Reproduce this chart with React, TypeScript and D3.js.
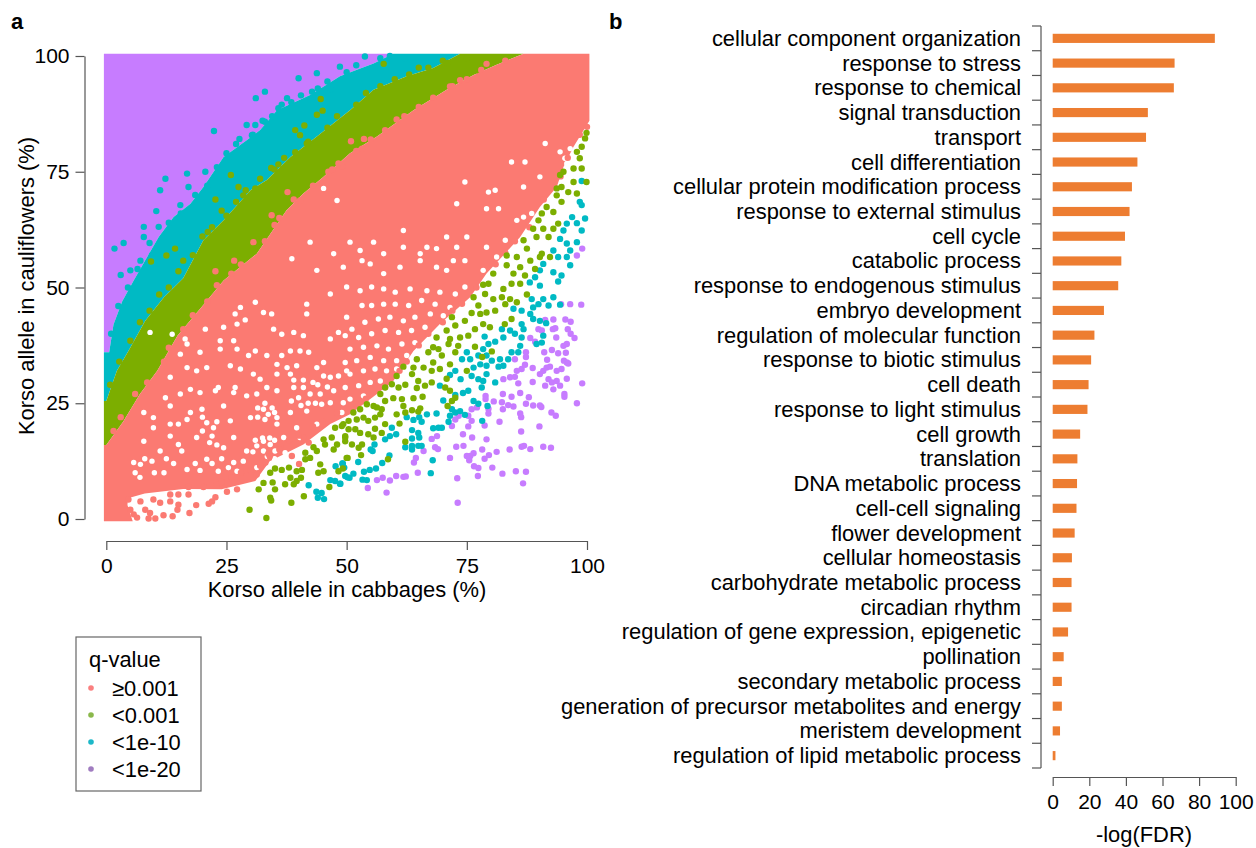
import React, { useEffect, useRef } from "react";
import * as d3 from "d3";

type Pt = [number, number];

const FONT = "'Liberation Sans', Arial, sans-serif";
const SALMON = "#FB7A72";
const GREEN = "#7CAE00";
const TEAL = "#00BAC4";
const PURPLE = "#C77CFF";

// panel b
const terms = [
  "cellular component organization", "response to stress", "response to chemical", "signal transduction",
  "transport", "cell differentiation", "cellular protein modification process", "response to external stimulus",
  "cell cycle", "catabolic process", "response to endogenous stimulus", "embryo development",
  "regulation of molecular function", "response to biotic stimulus", "cell death", "response to light stimulus",
  "cell growth", "translation", "DNA metabolic process", "cell-cell signaling",
  "flower development", "cellular homeostasis", "carbohydrate metabolic process", "circadian rhythm",
  "regulation of gene expression, epigenetic", "pollination", "secondary metabolic process",
  "generation of precursor metabolites and energy", "meristem development", "regulation of lipid metabolic process",
];
const fdr = [
  88.6, 66.6, 66.2, 52, 51, 46.3, 43.3, 42, 39.5, 37.5, 35.8, 28, 22.8, 21, 19.6, 19, 15, 13.5, 13.3, 13,
  12, 10.5, 10.3, 10.3, 8.4, 6, 5, 5, 4, 1.5,
];

// panel a, outlines of the solid parts of the cloud
const purpleTop: Pt[] = [[-0.5, 100.5], [59.7, 100.5]];
const tealTop: Pt[] = [
  [-0.5, 36], [0.6, 36], [1.5, 42], [3.3, 47], [5.7, 51.5], [8.5, 56.6], [10.9, 60.9], [14, 65.2], [17.5, 68.1],
  [20.2, 71.7], [24.4, 78.2], [29.2, 81.8], [32, 84], [35.5, 88.3], [42.4, 91.6], [48.6, 95.6], [52, 97],
  [55.6, 98.4], [59.7, 100.5],
];
const greenTop: Pt[] = [
  [-0.5, 25.5], [0, 25.5], [2.2, 32], [4.6, 36.3], [8.1, 42.8], [12, 47.9], [16, 52], [20.2, 60.2], [24.4, 64.5],
  [30, 71], [33.4, 73.2], [38.3, 78.2], [43.8, 82.6], [50.7, 88.3], [55.6, 92.7], [62.5, 95.6], [68, 97.4],
  [73.6, 100.5],
];
const salmonTop: Pt[] = [
  [-0.5, 16], [0, 16], [3.5, 21], [7, 27], [10.6, 32], [14.8, 39.6], [20, 46], [24.4, 51.5], [31.3, 57.3],
  [37.5, 66.7], [41, 70.3], [45.2, 73.9], [50.7, 79], [56.3, 82.6], [63.9, 88.3], [70.8, 92.7], [76.4, 95.9],
  [81.2, 98.1], [86.8, 100.5], [100.5, 100.5],
];
const salmonEdge: Pt[] = [
  [-0.5, -0.5], [5.5, -0.5], [4.4, 3], [4.5, 4.5], [8, 5.5], [16, 6.5], [24, 6.4], [31, 8.2], [34, 12.5], [41, 16.1], [46.6, 20.5],
  [50.7, 22.6], [56.3, 27], [59.7, 29.8], [63.9, 36.3], [69.4, 42.1], [75.7, 47.9], [79.1, 53], [86.1, 60.9],
  [90.2, 67.4], [93.7, 71.7], [95.1, 76], [97.2, 80.4], [100.5, 86], [100.5, 100.5],
];

// single points
const tealFringe: Pt[] = [
  [10.4, 66.5], [7.8, 63.1], [9, 59.6], [7.8, 60.9], [3.6, 59.6], [1.7, 58.4], [7.1, 55.8], [3, 52.7], [5, 53.7],
  [10.9, 63.1], [15.4, 67.8], [17.1, 71.7], [20.6, 75], [22.4, 83.8], [27.7, 82.1], [25.8, 78.2], [30.3, 82.9],
  [29.2, 85.1], [31, 85.1], [33, 85.8], [31.1, 90.9], [33, 92.3], [35.8, 88.7], [37.6, 90.9], [40, 95.2], [43.8, 96.3],
  [42.8, 92.3], [46.6, 92.7], [48.6, 97.7], [16.8, 74.6], [12.3, 73.5], [11.2, 71], [53.8, 99.9], [62, 99.5],
  [1, 40], [2.5, 46], [4.5, 50], [6.5, 54], [9.5, 57], [12, 61], [13, 64], [15.5, 66], [18.5, 70], [21, 72], [23, 76],
  [25, 79], [27, 81], [30.5, 83], [32.5, 86], [34.5, 87], [36.5, 89.5], [38.5, 90], [40.5, 91.5], [44, 93], [46, 94.5],
  [50, 96.5], [52, 98], [57, 99.5], [59, 100],
];
const greenFringe: Pt[] = [
  [9.3, 55.6], [12.5, 56.9], [14.3, 58.4], [16, 55.8], [21.1, 62], [22.7, 69], [24, 66.6], [25.9, 74.3], [28.5, 69.9],
  [27.5, 71.7], [31, 71.4], [34.3, 75.8], [35.8, 76.6], [39.3, 79.2], [41.7, 81.1], [40.3, 82.9], [39.3, 84], [41.2, 85],
  [43.8, 87.3], [45, 88.2], [44.6, 90.7], [57.7, 98.3], [49.2, 76.1], [77.7, 96.3], [65, 97.5], [70, 99], [75, 99.5],
  [0.8, 29], [2.7, 34], [5, 38.5], [7, 42.5], [9, 45], [11, 48.5], [13, 50], [15, 53.5], [18, 57], [20, 61], [22, 63],
  [25, 65.5], [27, 68.5], [29, 71], [32, 73.5], [35, 75.5], [37, 78], [42, 81.5], [46, 84.5], [48, 87], [52, 89.5],
  [54, 92], [57, 93.5], [60, 95], [63, 96], [67, 97.5], [71, 98.5],
];
const salmonFringe: Pt[] = [
  [34.4, 65.6], [37.7, 70.6], [30.6, 59.8], [26.6, 55.8], [22.7, 53.5], [40.3, 68.8], [49.1, 76.1], [46.2, 75],
  [48.3, 76.8], [50.9, 81.6], [53.6, 82.1], [53.2, 80], [60.4, 86.3], [73.6, 94.8], [79.1, 98.3], [71.5, 93.4],
  [100, 84.7], [1.5, 19], [3, 22], [6, 27], [8.5, 29.5], [12, 34], [13, 37], [16, 41], [18, 44], [21, 47], [23, 50.5],
  [26, 53], [28, 55], [33, 60], [35, 63.5], [36, 65], [39, 69], [43, 72], [47, 75.5], [52, 79.5], [55, 82], [58, 84],
  [62, 87], [65, 89], [68, 91], [72, 93.5], [75, 95], [78, 97], [83, 99],
];
const salmonPoints: Pt[] = [
  [4.6, 4.2], [7.1, 3.8], [5.7, 1], [5, 2], [6.4, 0.3], [8.8, 0.1], [10.2, 0.1], [9.1, 1.3], [11.9, 0.8], [13.8, 0.6],
  [8.1, 2], [9.8, 4.2], [11.2, 3.5], [13.3, 3.8], [13.3, 5.3], [15, 3.1], [14.8, 2], [17.3, 1.3], [18.7, 3], [21.3, 3.3],
  [22.7, 4.7], [22, 3.8], [17.1, 5.3], [15, 5.3], [17.1, 6.9], [20.2, 6.9], [25.1, 5.9], [27.2, 6.4], [23, 7.5],
  [31.3, 9.6], [33.7, 14.1], [38.6, 13.6], [40.1, 11.9], [42.1, 16.5], [36.2, 15.4], [41, 17.6], [33.1, 12.2],
  [24, 8], [26, 9], [28, 10], [30, 10.5], [32, 11.5], [34, 13.5], [36, 15], [38, 17], [40, 18], [43, 20], [45, 21], [48, 23],
  [52, 24.8], [54, 26], [58, 28.5], [61, 32], [62.5, 34], [65, 37.5], [67, 40], [70, 42.5], [72, 45], [74, 46.5], [77, 50],
  [81, 55], [83, 57.5], [85, 60], [88, 63], [91, 69], [94.5, 74], [96, 78], [98.5, 83],
];
// empty cells inside the solid salmon part
const salmonGaps: Pt[] = [
  [27.9, 45.7], [26.8, 44.3], [32.7, 44.6], [34.4, 44.3], [41.7, 46.4], [41.7, 44.3], [31, 46.8], [46.6, 48.6],
  [28.9, 43], [27.2, 42.1], [24.4, 41.4], [34.8, 41], [36.5, 39.9], [39, 40.3], [41, 39.6], [48.3, 40.3], [46.6, 38.9],
  [26.5, 38.5], [23.7, 38.5], [20.6, 41], [9.1, 40.3], [13.7, 39.9], [16.4, 38.9], [16.8, 37.8], [31, 36.3], [29.6, 35.3],
  [27.2, 36.7], [23.7, 36.7], [38.3, 36.3], [40.3, 36.3], [42.1, 36], [45.2, 33.8], [43.8, 32.7], [36.5, 35.3], [19.5, 36],
  [15.4, 35.6], [35.5, 33.4], [33.4, 35.3], [25.8, 33.1], [27.9, 32.4], [30.6, 31.3], [32, 30.2], [35.5, 31.3], [37.6, 32.7],
  [39.6, 33.1], [38.3, 31.3], [18.8, 32], [16.8, 32.7], [13.3, 30.6], [20.9, 32.7], [46.6, 30.6], [48.3, 30.9], [45.2, 30.9],
  [50, 32], [23.3, 28.4], [22.7, 27.7], [26.8, 28.4], [26.5, 27.3], [17.5, 28], [19.5, 27.3], [15.4, 27], [12.3, 26.2],
  [39, 28.4], [41, 28.4], [42.4, 27], [40, 26.2], [44.5, 27], [47.3, 27.7], [29.2, 26.6], [33.4, 28.4], [35.5, 27.7], [31.3, 27],
  [13.3, 24.4], [24.4, 24.4], [32.7, 23.7], [33.7, 22.6], [35.5, 21.9], [30, 21.9], [17.5, 23], [19.9, 23.7], [38.3, 23],
  [41.7, 23.3], [46.6, 25.1], [44.8, 24.8], [9.8, 21.9], [7.8, 23], [13.3, 20.5], [25.8, 21.2], [16.8, 21.5], [49.3, 25.1],
  [15, 20.5], [22.3, 19.7], [22, 17.9], [20.9, 20.8], [13.3, 17.9], [15, 16.1], [7.8, 16.8], [9.8, 19.7], [32.7, 16.8],
  [34.1, 16.1], [36.9, 17.6], [39.6, 19.7], [43.8, 20.5], [40.3, 17.6], [31.3, 15.8], [26.5, 17.6], [18.8, 17.6], [44.5, 17.9],
  [32.7, 14.7], [35.1, 14.7], [37.2, 14.3], [40, 14.7], [29.2, 14.7], [24.4, 15.4], [15.7, 14.7], [5.7, 12.2], [7.1, 11.8],
  [16.8, 10.7], [26.5, 12.2], [25.4, 11.1], [27.2, 10.3], [20.9, 12.9], [11.2, 14.7], [28.5, 12.5], [31.3, 11.1], [23.3, 10.3],
  [40, 12.2],
  [31.5, 24], [33, 25], [34.5, 24], [35, 23], [31.5, 22], [33, 21.5], [35.5, 20.5], [31, 17], [32.5, 17.5], [34, 17.5], [35, 17],
  [30.5, 14.5], [33.5, 13.5], [35, 13], [39, 30], [41, 30], [43, 29.5], [42, 25], [43.5, 25], [38.5, 25.5], [40.5, 24.5], [44, 29],
  [46, 28.5], [20, 19], [21.5, 16.5], [23, 16], [23, 21], [20, 22], [8, 13], [9.5, 12.5], [12.5, 13], [14, 12], [18.5, 12],
  [19.5, 10.5], [22, 12], [24, 13], [12, 10], [10, 10], [6, 10], [7, 9],
  [50, 50.1], [52.8, 49.3], [55.2, 50.1], [57.7, 49.7], [60.1, 49], [63.2, 49.7],
  [66.7, 49.3], [69.4, 49], [72.6, 48.6], [74.6, 50.1], [50, 43.6], [53.2, 46.1], [55.2, 46.1], [57.7, 46.4], [60.1, 46.4],
  [62.9, 46.1], [65.6, 47.2], [68.4, 46.4], [71.5, 45.7], [51.1, 41], [53.8, 42.5], [56.6, 43.2], [59, 43.6], [61.8, 42.8],
  [64.2, 43.6], [67.4, 44.3], [70.1, 43.9], [49.7, 39.6], [52.5, 39.2], [55.2, 40], [58, 40.7], [60.8, 40.3], [63.5, 40.7],
  [66.3, 41.4], [50.7, 36.7], [53.5, 37.1], [56.3, 37.4], [58.7, 36.7], [61.5, 37.8], [64.2, 38.1], [49.7, 33.8], [52.1, 34.2],
  [54.9, 34.9], [57.7, 34.2], [60.4, 34.2], [62.5, 35.3], [50.7, 31.3], [53.5, 32], [55.9, 32.4], [58.3, 32], [60.4, 32.4],
  [49.7, 28.4], [52.5, 28.8], [54.9, 29.5], [57, 29.8], [50.7, 25.9], [53.5, 26.6], [49, 23],
  [50.7, 59.8], [52.8, 58], [53.2, 55.8], [55.6, 59.8], [57.7, 57.3], [54.9, 55.1], [57.7, 53], [61.1, 54.4], [61.8, 58.7],
  [65.3, 57.3], [66.7, 58.7], [68.7, 58.4], [70.8, 53.7], [72.2, 55.8], [74.6, 55.8], [75, 60.9], [72.9, 58.7], [68.7, 54.4],
  [83, 60.2], [81.2, 56.6], [78.4, 53.7], [79.1, 58.7], [65.3, 55.8], [70.8, 60.9], [61.8, 62.3], [86.8, 65.2], [85.4, 64.5],
  [88.5, 66], [86.8, 71.7], [79.5, 70.6], [80.9, 71], [72.9, 68.1], [90.2, 73.9], [87.1, 77.1], [74.6, 72.8], [81.6, 67],
  [79.1, 67], [94.4, 79.3], [95.4, 77.9], [96.5, 80], [95.8, 76.8], [91.3, 81.1], [84.3, 77.1], [38.6, 56.2], [45.2, 71.4],
  [48, 68.8], [43.8, 53.7], [49.3, 54.4], [47.3, 57.3], [42.4, 59.8],
];

const greenPoints: Pt[] = [
  [49.2, 10.9], [50.2, 13.2], [53, 13.8], [58.6, 12.9], [62.2, 16.7], [49.7, 17.9], [50.4, 19.4], [51.8, 19.4], [49.7, 16.8],
  [51.1, 16.1], [52.5, 15.4], [53.2, 16.1], [52.8, 18.6], [54.5, 18.3], [55.6, 17.6], [57.3, 18.6], [55.9, 19.5], [58, 20.5],
  [61, 20.6], [60.4, 22.6], [62.2, 23], [63.6, 23.5], [65.3, 23.9], [64.9, 23.2], [61.8, 24.4], [61.5, 25.9], [59.7, 26.1],
  [58, 25.5], [57.3, 23.7], [56.3, 24.1], [55.6, 24.4], [54.2, 24.8], [52.8, 23.7], [51.4, 23], [52.1, 21.5], [54.5, 21.2],
  [55.9, 21.9], [57, 22.6], [53.5, 21.9], [49.3, 20.5], [57, 27], [58, 28.4], [59.4, 29.1], [60.8, 28.4], [62.2, 29],
  [60.4, 30.9], [61.8, 32.9], [63.9, 32.7], [63.6, 31.3], [64.9, 29.8], [64.6, 28.3], [66.3, 28.8], [67.7, 29.5], [65.8, 26.4],
  [63.9, 26.1], [66, 32.7], [64.6, 34.5], [67, 36], [68, 37.1], [69.1, 36.7], [68.7, 39.2], [70.8, 40.7], [71.9, 43.6],
  [72.6, 41.8], [74.6, 42.8], [76, 44.5], [71.5, 38.9], [71.2, 37.8], [72.6, 36], [73.2, 37.4], [69.8, 35.3], [68, 33.8],
  [67.7, 32], [69.4, 32.4], [71.5, 33.4], [70.8, 30.3], [75, 32], [70.5, 28.4], [71.5, 27.7], [72.6, 26.2], [71.9, 25.5],
  [71, 24.4], [76.7, 37.2], [78.2, 35], [80.2, 36.2], [73.6, 39.2], [75.3, 39.6], [76.7, 41], [78.4, 42.1], [79.8, 41.4],
  [82.9, 42.1], [84.3, 43.2], [79.1, 44.6], [77.8, 44.3], [80.9, 45], [77.4, 46.1], [76.4, 47.9], [78.8, 48.6], [80.5, 47.5],
  [83, 46.4], [84, 47.5], [85.4, 46.8], [87.5, 48.5], [82.6, 49.7], [84.3, 50.8], [86.1, 50.8], [82.3, 47.9], [79.5, 50.8],
  [78.4, 50.6], [99.9, 83.4], [99.6, 82.2], [98.9, 80.4], [97.9, 79.3], [98.5, 77.9], [97.2, 75.7], [98.9, 75.7], [95.1, 75],
  [94.4, 74.3], [97.2, 72.8], [99.9, 72.8], [93.7, 71.4], [94.7, 71.7], [96.1, 70.6], [97.9, 70.3], [93.7, 69.9], [91.6, 67.4],
  [94.7, 68.5], [90.6, 66], [93, 66.3], [94, 63.8], [89.9, 64.5], [88.8, 62.7], [90.9, 62.7], [93, 62.7], [86.8, 60.2],
  [89.5, 60.9], [92, 60.9], [87.5, 58.4], [90.6, 57.3], [92.3, 56.6], [83.3, 56.9], [85.4, 56.6], [88.2, 55.8], [90.2, 56.6],
  [83.3, 54.8], [86.1, 54.4], [80.5, 53], [84.7, 53], [87.1, 52.6], [89.2, 54], [33.3, 0.2], [29.8, 2], [38.5, 3.5],
  [41.1, 4.9], [34.1, 4.6], [34.3, 4], [31.7, 6.4], [32.7, 7.8], [34.6, 7.9], [35.1, 6.4], [37.2, 7.5], [38.3, 8.9],
  [39.6, 8.2], [40.5, 8.9], [39, 7.5], [38, 11.1], [39.6, 10.3], [40.7, 10.6], [36.5, 10.6], [35.1, 10.9], [34.1, 10],
  [41.4, 12.9], [41.4, 14.3], [42.4, 13.2], [43.1, 15.5], [43.8, 14.7], [45.2, 17.2], [45.5, 16.1], [44.5, 11.8], [44.1, 10],
  [45.2, 10.3], [46.4, 6.9], [48.3, 10.3], [48, 16.1], [47.3, 15], [46.9, 17.6], [47.6, 19.7], [49.7, 17.6], [49, 20.1],
  [50, 13.2], [50.4, 21.2],
];

const tealPoints: Pt[] = [
  [48.7, 7.6], [50.6, 8.9], [51.4, 9.8], [49.7, 9.3], [53.6, 10.2], [53.3, 8.5], [54.2, 8.4], [54.8, 10.6], [56.1, 10.9],
  [57.4, 12.1], [58.9, 13.7], [52.4, 12.3], [49.2, 12], [55.4, 14.7], [55.8, 16.1], [55, 15], [58, 17.2], [59, 17.9],
  [60.3, 18.3], [59.4, 19.7], [62.2, 15.5], [63.6, 15.8], [63.6, 15], [64.9, 15.8], [65.6, 15.8], [63.6, 17.4], [65.1, 17.6],
  [64.9, 18.6], [63.6, 19.2], [67.9, 12.7], [67.5, 9.9], [62.5, 22], [63.9, 21.4], [65.1, 22], [65.6, 21], [66.7, 22.6],
  [68.7, 22.8], [68, 19.6], [69.1, 19.7], [69.8, 19.7], [71.2, 21], [71.5, 22.3], [71.9, 23.7], [72.6, 23], [73.6, 23.3],
  [74.6, 22.5], [78.2, 21.2], [76.4, 25.5], [77.4, 24.9], [79.3, 24.4], [70.1, 25.6], [72.6, 26.8], [74.2, 27.2], [75.3, 27.7],
  [69.4, 28.8], [73.7, 30.2], [72.6, 32], [71.5, 31.1], [75, 36], [74, 34.5], [75.7, 34.5], [77.4, 35.3], [78.4, 36.7],
  [79.1, 35.3], [80.2, 34.2], [81.9, 34.5], [81.6, 32.9], [82.6, 33.1], [76.4, 32.7], [77.8, 33.4], [79.1, 33.1], [76, 30.9],
  [77.4, 30.2], [78.4, 29.8], [79.1, 31.3], [80.9, 29.5], [78.1, 28.4], [79.5, 37.8], [80.9, 38.3], [78.7, 39.4], [83.6, 34.5],
  [84.3, 36], [85.7, 36], [86.1, 37.4], [84, 40.7], [85, 40], [86.4, 39.2], [82.6, 39.2], [82.3, 41], [86.4, 42.1], [86.8, 41],
  [84.7, 45.4], [86.4, 45], [88.2, 44.3], [88.8, 43.2], [90.2, 42.8], [89.5, 37.8], [90.6, 38.1], [90.9, 39.6], [91.5, 42.3],
  [88.5, 47.5], [89.9, 46.4], [88.8, 45.7], [90.9, 47.5], [92, 46.1], [93, 47.9], [94.4, 46.3], [94, 51.3], [90.2, 50.4],
  [88.1, 51.1], [98.9, 73], [98.5, 68.5], [98.9, 67.8], [99.6, 64.9], [98.9, 62.3], [97.9, 63.9], [96.9, 65.2], [95.8, 63.8],
  [95.1, 62.3], [94.4, 60.5], [95.8, 59.5], [97.9, 59.8], [96.5, 58], [95.8, 56.6], [96.5, 54.8], [94, 56.6], [93, 58],
  [90.9, 55.1], [90.2, 53.7], [93, 53.3], [94.7, 52.6], [89.2, 52.2], [42.1, 7.3], [43.7, 5.9], [44, 4.6], [45.3, 4.3],
  [44.8, 5.6], [47.7, 11.4], [49.1, 12], [49.5, 11.1], [46.6, 8.4], [47.6, 8.2], [48.6, 7.6], [50.2, 9],
];

const purplePoints: Pt[] = [
  [54.4, 6.7], [58.3, 5.7], [73.1, 3.5], [56.3, 8.4], [57.5, 8.9], [59, 8.3], [60.3, 9.3], [61.8, 9.1], [62.3, 9.2], [64.8, 10],
  [64, 12.2], [64.4, 13.2], [66, 14.7], [67.7, 17.3], [68.8, 17.9], [68.4, 15.5], [69, 15.1], [71.5, 13.2], [73, 8.8], [77.3, 9.3],
  [80.3, 11.1], [82.4, 9.8], [85.2, 10.3], [87.3, 10.2], [86.7, 7.7], [72.8, 15.6], [74.3, 15.8], [74.2, 18.3], [76.1, 17.6],
  [79.1, 17.2], [75.3, 20], [78.2, 15], [81.2, 14.5], [83.9, 15], [86.4, 15.6], [86.9, 15.8], [88.2, 15.1], [90.9, 15.6],
  [92.5, 15.4], [90.1, 20], [86.3, 18.9], [81.8, 21], [78.7, 20.2], [75.7, 13.6], [75, 13.6], [76.4, 14.2], [75.5, 12.7],
  [76.5, 11.4], [77.4, 11], [78.7, 13], [79.6, 13.8], [78.9, 26.6], [78.9, 25.9], [80.6, 25.4], [82.5, 27], [84.3, 26.4],
  [86.1, 27.2], [87.9, 26.3], [82.3, 25.2], [82.5, 23.7], [83.6, 24.6], [84.7, 24.3], [87.3, 24.9], [88.8, 24.5], [90.2, 24.5],
  [90.5, 24.2], [86.1, 22.8], [86.3, 22], [92.6, 23], [93.5, 22.3], [97.9, 25], [99, 29.3], [95.8, 30.3], [95.3, 27], [95.3, 26.4],
  [88.7, 29.6], [85.7, 29.3], [82.6, 30.2], [84, 30.6], [85, 30.7], [85.4, 32], [86.4, 32.4], [87.1, 33.3], [88.7, 32.6],
  [91.7, 34.4], [91.1, 36], [94, 35.8], [95.6, 35.9], [95.8, 37.8], [95.1, 37.4], [93.6, 39.2], [92.7, 36.5], [87.3, 36], [87.3, 35],
  [85, 34.5], [88.2, 39.1], [89.2, 38.3], [89.9, 41], [90.6, 40.7], [92.9, 41], [93.4, 41.2], [91.3, 43], [93, 43.1], [95.5, 43.1],
  [96.6, 42.6], [96, 41], [96.6, 40], [97.4, 39.1], [94.6, 46.4], [96.5, 46.4], [98.8, 46.3], [91.6, 32.7], [90.9, 32], [90.2, 31.3],
  [92, 30.2], [92.7, 29.5], [93.7, 29.8], [91.3, 28.8], [93, 28], [94.4, 28.8], [93.7, 32], [94.7, 32.4], [95.8, 33.8], [95.2, 34.2],
  [96.1, 33.6], [92.3, 32.9], [76, 23.7], [77.1, 24.1], [75.3, 22.3], [76, 21.2], [73.3, 22.3], [72.6, 21.5], [71.9, 20.1],
  [79.5, 23.8], [79.5, 22.8], [99, 58.4], [97.9, 56.9],
];

const qLabels = ["≥0.001", "<0.001", "<1e-10", "<1e-20"];
const qColors = ["#FA7F7F", "#8AB84B", "#1CB8C8", "#A07CC0"];
const pctTicks = [0, 25, 50, 75, 100];
const fdrTicks = [0, 20, 40, 60, 80, 100];

const POINT_R = 3.2;
const GAP_R = 2.7;
const TEXT_SIZE = 21.9;
const TICK_SIZE = 21;

function drawAxisStyle(g: any) {
  g.selectAll("path, line").attr("stroke", "#555").attr("stroke-width", 1.2);
  g.selectAll("text").attr("fill", "#000").attr("font-family", FONT).attr("font-size", TICK_SIZE);
}

export default function App() {
  const ref = useRef<SVGSVGElement>(null);

  useEffect(() => {
    const svg = d3.select(ref.current);
    svg.selectAll("*").remove();

    // panel a
    const x = d3.scaleLinear().domain([0, 100]).range([106.3, 587]);
    const y = d3.scaleLinear().domain([0, 100]).range([519, 56]);
    const line = d3.line<Pt>().x((d) => x(d[0])).y((d) => y(d[1]));
    const band = (upper: Pt[], lower: Pt[]) => line(upper.concat(lower.slice().reverse())) + "Z";

    const cloud = svg.append("g");
    cloud.append("path").attr("d", band(tealTop, purpleTop)).attr("fill", PURPLE);

    const dots = (pts: Pt[], color: string, r = POINT_R) => {
      cloud.append("g").selectAll("circle").data(pts).join("circle")
        .attr("cx", (d) => x(d[0])).attr("cy", (d) => y(d[1])).attr("r", r).attr("fill", color);
    };

    cloud.append("path").attr("d", band(tealTop, greenTop)).attr("fill", TEAL);
    dots(tealFringe, TEAL);
    cloud.append("path").attr("d", band(greenTop, salmonTop)).attr("fill", GREEN);
    dots(greenFringe, GREEN);
    cloud.append("path").attr("d", band(salmonTop, salmonEdge)).attr("fill", SALMON);
    dots(salmonGaps, "#fff", GAP_R);
    dots(salmonPoints, SALMON);
    dots(salmonFringe, SALMON);
    dots(purplePoints, PURPLE);
    dots(tealPoints, TEAL);
    dots(greenPoints, GREEN);

    const xAxis = svg.append("g").attr("transform", "translate(0,541)")
      .call(d3.axisBottom(x).tickValues(pctTicks).tickSize(9).tickSizeOuter(0).tickPadding(8));
    drawAxisStyle(xAxis);
    const yAxis = svg.append("g").attr("transform", "translate(84.5,0)")
      .call(d3.axisLeft(y).tickValues(pctTicks).tickSize(9).tickSizeOuter(0).tickPadding(6));
    drawAxisStyle(yAxis);

    const label = (tx: number, ty: number, s: string, size = TEXT_SIZE, anchor = "start", weight = "normal") =>
      svg.append("text").attr("x", tx).attr("y", ty).attr("font-family", FONT).attr("font-size", size)
        .attr("text-anchor", anchor).attr("font-weight", weight).attr("fill", "#000").text(s);

    label(11, 29, "a", 22, "start", "bold");
    label(609, 29, "b", 22, "start", "bold");
    label(347, 597, "Korso allele in cabbages (%)", TEXT_SIZE, "middle");
    label(0, 0, "Korso allele in cauliflowers (%)", TEXT_SIZE, "middle")
      .attr("transform", "translate(34,286) rotate(-90)");

    // legend
    const legend = svg.append("g");
    legend.append("rect").attr("x", 76).attr("y", 637).attr("width", 125).attr("height", 154)
      .attr("fill", "#fff").attr("stroke", "#666").attr("stroke-width", 1.2);
    label(89, 667, "q-value");
    const legendY = d3.scalePoint<string>().domain(qLabels).range([688, 769]);
    qLabels.forEach((q, i) => {
      legend.append("circle").attr("cx", 91).attr("cy", legendY(q)!).attr("r", 2.8).attr("fill", qColors[i]);
      label(112, legendY(q)! + 7.5, q);
    });

    // panel b
    const bx = d3.scaleLinear().domain([0, 100]).range([1052.7, 1235.7]);
    const by = d3.scaleBand<string>().domain(terms).range([26, 768]).paddingInner(0.63).paddingOuter(0.315);
    svg.append("g").selectAll("rect").data(terms).join("rect")
      .attr("x", bx(0))
      .attr("y", (d) => by(d)!)
      .attr("width", (d, i) => bx(fdr[i]) - bx(0))
      .attr("height", by.bandwidth())
      .attr("fill", "#ED7D31");

    const step = by.step();
    const rowAxis = svg.append("g").attr("stroke", "#555").attr("stroke-width", 1.2);
    rowAxis.append("line").attr("x1", 1041).attr("x2", 1041).attr("y1", 26).attr("y2", 768);
    rowAxis.selectAll("line.tick").data(d3.range(terms.length + 1)).join("line")
      .attr("class", "tick").attr("x1", 1032).attr("x2", 1041)
      .attr("y1", (i) => 26 + i * step).attr("y2", (i) => 26 + i * step);

    terms.forEach((t) => label(1021, by(t)! + by.bandwidth() / 2 + 7.5, t, TEXT_SIZE, "end"));

    const fdrAxis = svg.append("g").attr("transform", "translate(0,777)")
      .call(d3.axisBottom(bx).tickValues(fdrTicks).tickSize(9).tickSizeOuter(0).tickPadding(8));
    drawAxisStyle(fdrAxis);
    label(1144, 842, "-log(FDR)", TEXT_SIZE, "middle");
  }, []);

  return (
    <svg ref={ref} width={1256} height={848} style={{ position: "absolute", left: 0, top: 0, background: "#fff" }} />
  );
}
